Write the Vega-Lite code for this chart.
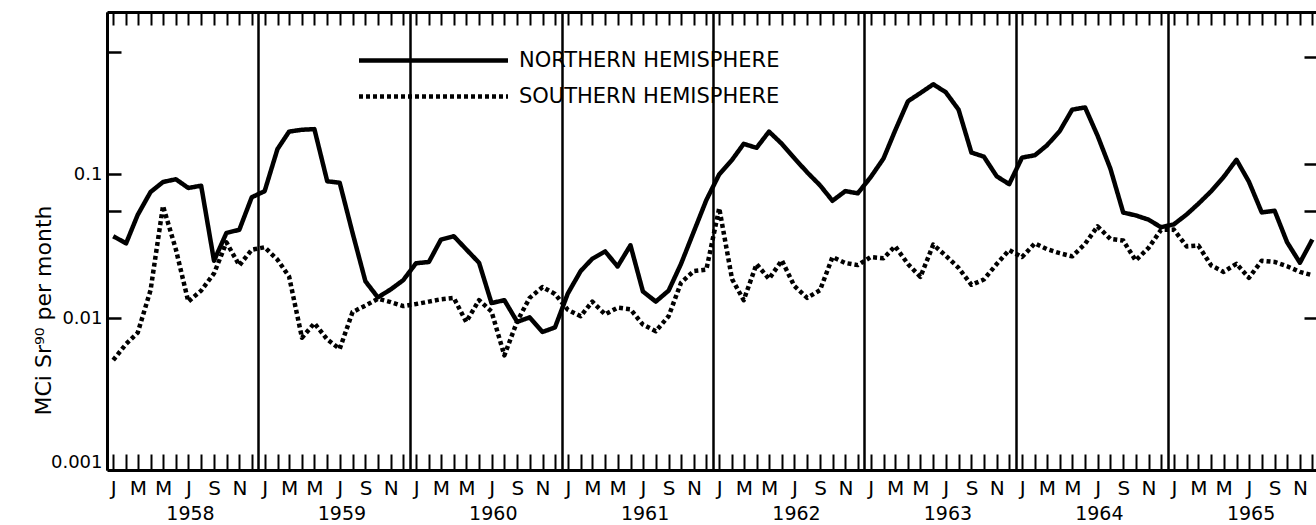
{
  "$schema": "https://vega.github.io/schema/vega-lite/v6.json",
  "width": 1209,
  "height": 458,
  "autosize": "none",
  "padding": {"left": 107, "top": 12, "right": 0, "bottom": 55},
  "background": "white",
  "config": {
    "font": "DejaVu Sans",
    "view": {"stroke": null},
    "axis": {"grid": false, "domainColor": "black", "tickColor": "black", "labelColor": "black", "titleColor": "black", "labelFont": "DejaVu Sans", "titleFont": "DejaVu Sans", "tickWidth": 2.5, "domainWidth": 3}
  },
  "data": {"values": [
    {"date": "1958-01-16", "N": 0.037, "S": 0.0051},
    {"date": "1958-02-16", "N": 0.033, "S": 0.0066},
    {"date": "1958-03-16", "N": 0.052, "S": 0.0079},
    {"date": "1958-04-16", "N": 0.075, "S": 0.0156},
    {"date": "1958-05-16", "N": 0.088, "S": 0.060},
    {"date": "1958-06-16", "N": 0.092, "S": 0.030},
    {"date": "1958-07-16", "N": 0.080, "S": 0.013},
    {"date": "1958-08-16", "N": 0.083, "S": 0.0155},
    {"date": "1958-09-16", "N": 0.025, "S": 0.0204},
    {"date": "1958-10-16", "N": 0.039, "S": 0.0335},
    {"date": "1958-11-16", "N": 0.041, "S": 0.0232},
    {"date": "1958-12-16", "N": 0.069, "S": 0.0298},
    {"date": "1959-01-16", "N": 0.076, "S": 0.031},
    {"date": "1959-02-16", "N": 0.149, "S": 0.0254},
    {"date": "1959-03-16", "N": 0.197, "S": 0.0194},
    {"date": "1959-04-16", "N": 0.203, "S": 0.0073},
    {"date": "1959-05-16", "N": 0.205, "S": 0.0092},
    {"date": "1959-06-16", "N": 0.089, "S": 0.0071},
    {"date": "1959-07-16", "N": 0.087, "S": 0.0061},
    {"date": "1959-08-16", "N": 0.039, "S": 0.011},
    {"date": "1959-09-16", "N": 0.018, "S": 0.0122},
    {"date": "1959-10-16", "N": 0.0139, "S": 0.0136},
    {"date": "1959-11-16", "N": 0.0158, "S": 0.0129},
    {"date": "1959-12-16", "N": 0.0183, "S": 0.0121},
    {"date": "1960-01-16", "N": 0.024, "S": 0.0125},
    {"date": "1960-02-16", "N": 0.0245, "S": 0.0130},
    {"date": "1960-03-16", "N": 0.035, "S": 0.0135},
    {"date": "1960-04-16", "N": 0.037, "S": 0.0138},
    {"date": "1960-05-16", "N": 0.030, "S": 0.0094},
    {"date": "1960-06-16", "N": 0.0242, "S": 0.0133},
    {"date": "1960-07-16", "N": 0.0127, "S": 0.0111},
    {"date": "1960-08-16", "N": 0.0133, "S": 0.0055},
    {"date": "1960-09-16", "N": 0.0094, "S": 0.0095},
    {"date": "1960-10-16", "N": 0.0101, "S": 0.0138},
    {"date": "1960-11-16", "N": 0.0080, "S": 0.0164},
    {"date": "1960-12-16", "N": 0.0086, "S": 0.0147},
    {"date": "1961-01-16", "N": 0.0148, "S": 0.0114},
    {"date": "1961-02-16", "N": 0.0212, "S": 0.0103},
    {"date": "1961-03-16", "N": 0.0258, "S": 0.0130},
    {"date": "1961-04-16", "N": 0.029, "S": 0.0106},
    {"date": "1961-05-16", "N": 0.0228, "S": 0.0118},
    {"date": "1961-06-16", "N": 0.032, "S": 0.0115},
    {"date": "1961-07-16", "N": 0.0153, "S": 0.0090},
    {"date": "1961-08-16", "N": 0.013, "S": 0.0081},
    {"date": "1961-09-16", "N": 0.0155, "S": 0.0103},
    {"date": "1961-10-16", "N": 0.0238, "S": 0.0176},
    {"date": "1961-11-16", "N": 0.040, "S": 0.0212},
    {"date": "1961-12-16", "N": 0.066, "S": 0.0217},
    {"date": "1962-01-16", "N": 0.0995, "S": 0.058},
    {"date": "1962-02-16", "N": 0.1255, "S": 0.0186},
    {"date": "1962-03-16", "N": 0.162, "S": 0.0133},
    {"date": "1962-04-16", "N": 0.152, "S": 0.0237},
    {"date": "1962-05-16", "N": 0.197, "S": 0.0187},
    {"date": "1962-06-16", "N": 0.162, "S": 0.0251},
    {"date": "1962-07-16", "N": 0.129, "S": 0.0167},
    {"date": "1962-08-16", "N": 0.1027, "S": 0.0138},
    {"date": "1962-09-16", "N": 0.0835, "S": 0.0156},
    {"date": "1962-10-16", "N": 0.0652, "S": 0.0265},
    {"date": "1962-11-16", "N": 0.0761, "S": 0.0241},
    {"date": "1962-12-16", "N": 0.0734, "S": 0.0233},
    {"date": "1963-01-16", "N": 0.095, "S": 0.0265},
    {"date": "1963-02-16", "N": 0.128, "S": 0.026},
    {"date": "1963-03-16", "N": 0.200, "S": 0.0315},
    {"date": "1963-04-16", "N": 0.320, "S": 0.0237},
    {"date": "1963-05-16", "N": 0.365, "S": 0.0193},
    {"date": "1963-06-16", "N": 0.420, "S": 0.0323},
    {"date": "1963-07-16", "N": 0.370, "S": 0.0271},
    {"date": "1963-08-16", "N": 0.280, "S": 0.0223},
    {"date": "1963-09-16", "N": 0.141, "S": 0.017},
    {"date": "1963-10-16", "N": 0.132, "S": 0.0185},
    {"date": "1963-11-16", "N": 0.0964, "S": 0.0237},
    {"date": "1963-12-16", "N": 0.085, "S": 0.0296},
    {"date": "1964-01-16", "N": 0.130, "S": 0.0265},
    {"date": "1964-02-16", "N": 0.135, "S": 0.033},
    {"date": "1964-03-16", "N": 0.158, "S": 0.0301},
    {"date": "1964-04-16", "N": 0.199, "S": 0.0282},
    {"date": "1964-05-16", "N": 0.280, "S": 0.0268},
    {"date": "1964-06-16", "N": 0.290, "S": 0.0327},
    {"date": "1964-07-16", "N": 0.185, "S": 0.0433},
    {"date": "1964-08-16", "N": 0.109, "S": 0.0354},
    {"date": "1964-09-16", "N": 0.054, "S": 0.0345},
    {"date": "1964-10-16", "N": 0.0516, "S": 0.0251},
    {"date": "1964-11-16", "N": 0.0482, "S": 0.0307},
    {"date": "1964-12-16", "N": 0.0427, "S": 0.0409},
    {"date": "1965-01-16", "N": 0.0447, "S": 0.0411},
    {"date": "1965-02-16", "N": 0.0524, "S": 0.0314},
    {"date": "1965-03-16", "N": 0.0621, "S": 0.0319},
    {"date": "1965-04-16", "N": 0.0759, "S": 0.0232},
    {"date": "1965-05-16", "N": 0.0953, "S": 0.0209},
    {"date": "1965-06-16", "N": 0.1256, "S": 0.0238},
    {"date": "1965-07-16", "N": 0.0885, "S": 0.019},
    {"date": "1965-08-16", "N": 0.0541, "S": 0.025},
    {"date": "1965-09-16", "N": 0.0556, "S": 0.0245},
    {"date": "1965-10-16", "N": 0.0336, "S": 0.0229},
    {"date": "1965-11-16", "N": 0.0242, "S": 0.0209},
    {"date": "1965-12-16", "N": 0.0351, "S": 0.0198}
  ]},
  "transform": [{"fold": ["N", "S"], "as": ["hemisphere", "value"]}],
  "layer": [
    {
      "mark": {"type": "line", "color": "black", "strokeWidth": 4.5, "strokeJoin": "round", "clip": true},
      "encoding": {
        "x": {
          "field": "date", "type": "temporal",
          "scale": {"type": "utc", "domain": [{"year": 1958, "month": 1, "date": 1, "utc": true}, {"year": 1965, "month": 12, "date": 24, "hours": 18, "utc": true}]},
          "axis": {"orient": "bottom", "tickCount": {"interval": "month", "step": 1}, "ticks": false, "labelExpr": "utcmonth(datum.value) % 2 == 0 ? slice(utcFormat(datum.value, '%b'), 0, 1) : ''", "labelOffset": 6.3, "labelPadding": 18, "labelBaseline": "middle", "labelFontSize": 20, "labelOverlap": false, "labelFlush": false, "labelBound": false, "domain": true, "title": null}
        },
        "y": {
          "field": "value", "type": "quantitative",
          "scale": {"type": "log", "domain": [0.00088, 1.334], "nice": false},
          "axis": {"orient": "left", "values": [0.001, 0.01, 0.1], "format": ".3~f", "ticks": false, "labelPadding": 5, "labelFontSize": 18, "labelOverlap": false, "domain": true, "title": "MCi Sr⁹⁰ per month", "titleFontSize": 22, "titleFontWeight": "normal", "titleAngle": 270, "titleX": -64, "titleY": 298, "titleBaseline": "middle", "titleAlign": "center"}
        },
        "strokeDash": {
          "field": "hemisphere", "type": "nominal",
          "scale": {"domain": ["N", "S"], "range": [[1, 0], [4, 3]]},
          "legend": {"orient": "none", "legendX": 308, "legendY": 30, "direction": "vertical", "title": null, "symbolType": "M-10,0H10", "symbolSize": 222, "symbolStrokeWidth": 4.5, "symbolStrokeColor": "black", "labelFont": "DejaVu Sans", "labelFontSize": 21, "labelLimit": 500, "labelColor": "black", "labelOffset": 75, "rowPadding": 14, "padding": 8, "zindex": 2, "labelExpr": "datum.label == 'N' ? 'NORTHERN HEMISPHERE' : 'SOUTHERN HEMISPHERE'"}
        }
      }
    },
    {
      "mark": {"type": "point", "opacity": 0},
      "encoding": {
        "x": {
          "field": "date", "type": "temporal",
          "scale": {"type": "utc", "domain": [{"year": 1958, "month": 1, "date": 1, "utc": true}, {"year": 1965, "month": 12, "date": 24, "hours": 18, "utc": true}]},
          "axis": {"orient": "bottom", "tickCount": {"interval": "month", "step": 1}, "tickOffset": 6.3, "tickSize": -16, "tickWidth": 2, "labels": false, "domain": false, "title": null}
        },
        "y": {
          "field": "value", "type": "quantitative",
          "scale": {"type": "log", "domain": [0.00088, 1.334], "nice": false},
          "axis": {"orient": "left", "values": [0.01, 0.055, 0.1, 0.7], "tickSize": -14, "labels": false, "domain": false, "title": null}
        }
      }
    },
    {
      "mark": {"type": "point", "opacity": 0},
      "encoding": {
        "x": {
          "field": "date", "type": "temporal",
          "scale": {"type": "utc", "domain": [{"year": 1958, "month": 1, "date": 1, "utc": true}, {"year": 1965, "month": 12, "date": 24, "hours": 18, "utc": true}]},
          "axis": {"orient": "top", "tickCount": {"interval": "month", "step": 1}, "tickOffset": 6.3, "tickSize": -13, "tickWidth": 2, "labels": false, "domain": true, "title": null}
        },
        "y": {
          "field": "value", "type": "quantitative",
          "scale": {"type": "log", "domain": [0.00088, 1.334], "nice": false},
          "axis": {"orient": "right", "values": [0.01, 0.055, 0.117, 0.65], "tickSize": -12, "labels": false, "domain": false, "title": null}
        }
      }
    },
    {
      "mark": {"type": "point", "opacity": 0},
      "encoding": {
        "x": {
          "field": "date", "type": "temporal",
          "scale": {"type": "utc", "domain": [{"year": 1958, "month": 1, "date": 1, "utc": true}, {"year": 1965, "month": 12, "date": 24, "hours": 18, "utc": true}]},
          "axis": {"orient": "bottom", "tickCount": {"interval": "year", "step": 1}, "ticks": false, "grid": true, "gridColor": "black", "gridWidth": 2.5, "gridOpacity": 1, "zindex": 0, "labelExpr": "utcFormat(datum.value, '%Y')", "labelOffset": 83, "labelPadding": 43, "labelBaseline": "middle", "labelFontSize": 19, "labelFlush": false, "labelOverlap": false, "domain": false, "title": null}
        },
        "y": {
          "field": "value", "type": "quantitative",
          "scale": {"type": "log", "domain": [0.00088, 1.334], "nice": false},
          "axis": null
        }
      }
    }
  ],
  "resolve": {"axis": {"x": "independent", "y": "independent"}}
}
